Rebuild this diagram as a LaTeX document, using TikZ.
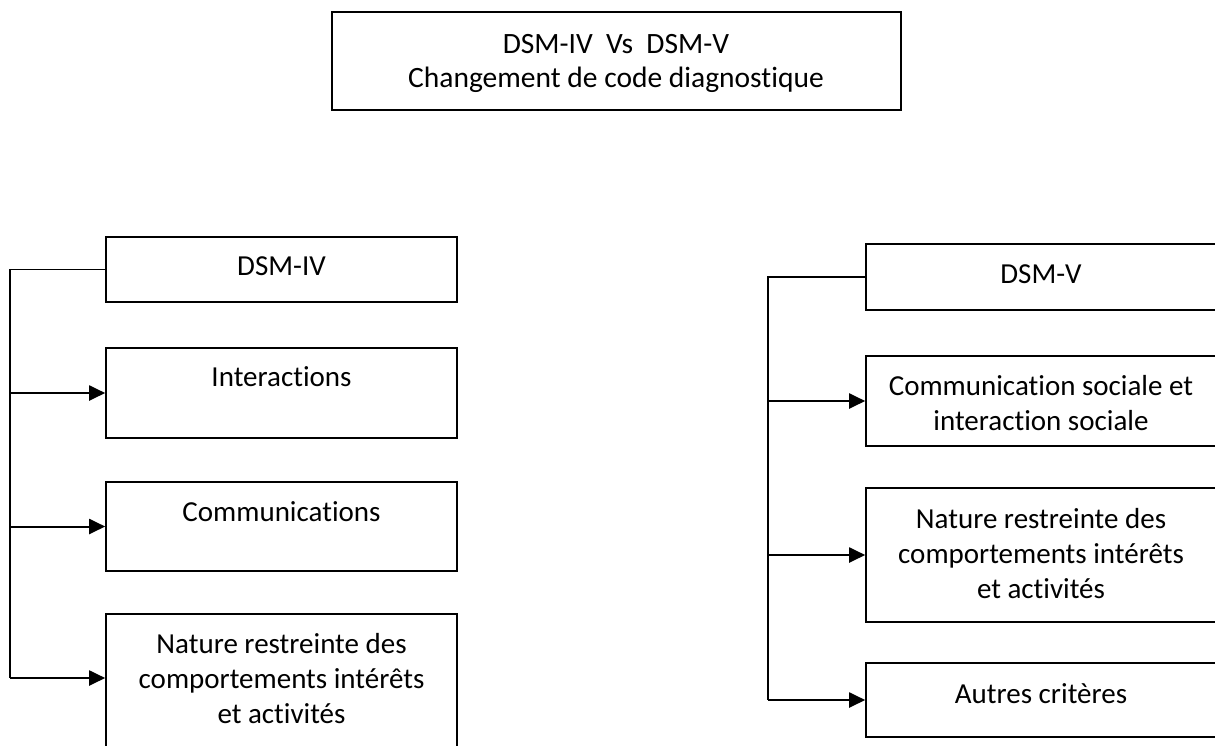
\documentclass[tikz,border=0pt]{standalone}
\usepackage{fontspec}
\setmainfont{Carlito}[Ligatures=NoCommon]
\usetikzlibrary{arrows.meta}
\begin{document}
\begin{tikzpicture}[x=1pt,y=-1pt,
  box/.style={draw=black, line width=1.6pt, rectangle, inner sep=0pt, fill=white},
  txt/.style={inner sep=0pt, align=center, font=\fontsize{29}{35}\selectfont},
  link/.style={draw=black, line width=1.8pt},
  arr/.style={draw=black, line width=2pt, -{Triangle[length=16pt,width=15pt]}}]
\useasboundingbox (0,0) rectangle (1215,745);
\clip (0,0) rectangle (1215,745);
\fill[white] (0,0) rectangle (1215,745);

% top box
\node[box, minimum width=569pt, minimum height=98pt] (top) at (616.5,61) {};
\node[txt, font=\fontsize{29.5}{33.5}\selectfont] (toptxt) at (616,63.5) {DSM-IV\ \ Vs\ \ DSM-V\\Changement de code diagnostique};

% left column
\node[box, minimum width=351pt, minimum height=65pt] (d4) at (281.5,269.5) {};
\node[box, minimum width=351pt, minimum height=90pt] (i4) at (281.5,393) {};
\node[box, minimum width=351pt, minimum height=89pt] (c4) at (281.5,526.5) {};
\node[box, minimum width=351pt, minimum height=160pt] (n4) at (281.5,694) {};
\node[txt] (d4t) at (281.5,266) {DSM-IV};
\node[txt] (i4t) at (281.5,377) {Interactions};
\node[txt] (c4t) at (281.5,512) {Communications};
\node[txt] (n4t) at (281.5,679) {Nature restreinte des\\comportements intérêts\\et activités};
\coordinate (lbot) at (10,678);
\draw[link] (d4.west) -| (lbot);
\draw[arr] (lbot |- i4.west) -- (i4.west);
\draw[arr] (lbot |- c4.west) -- (c4.west);
\draw[arr] (lbot) -- (lbot -| n4.west);

% right column
\node[box, minimum width=352pt, minimum height=66pt] (d5) at (1042,277) {};
\node[box, minimum width=352pt, minimum height=90pt] (c5) at (1042,401) {};
\node[box, minimum width=352pt, minimum height=134pt] (n5) at (1042,555) {};
\node[box, minimum width=352pt, minimum height=74pt] (a5) at (1042,700) {};
\node[txt] (d5t) at (1041,274) {DSM-V};
\node[txt] (c5t) at (1041,403) {Communication sociale et\\interaction sociale};
\node[txt] (n5t) at (1041,554) {Nature restreinte des\\comportements intérêts\\et activités};
\node[txt] (a5t) at (1041,693.5) {Autres critères};
\coordinate (rbot) at (768,700);
\draw[link] (d5.west) -| (rbot);
\draw[arr] (rbot |- c5.west) -- (c5.west);
\draw[arr] (rbot |- n5.west) -- (n5.west);
\draw[arr] (rbot) -- (a5.west);
\end{tikzpicture}
\end{document}
